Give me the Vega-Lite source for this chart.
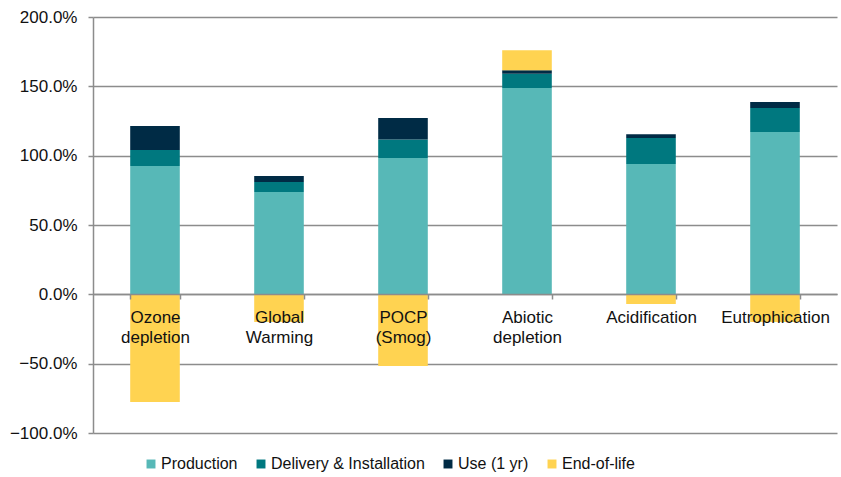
{
  "$schema": "https://vega.github.io/schema/vega-lite/v6.json",
  "width": 744,
  "height": 416,
  "autosize": {"type": "none"},
  "padding": {"left": 93, "top": 17, "right": 4, "bottom": 44},
  "background": "white",
  "config": {
    "view": {"stroke": null},
    "font": "Liberation Sans",
    "axis": {"labelFont": "Liberation Sans", "labelFontSize": 17, "labelColor": "#111"},
    "legend": {"labelFont": "Liberation Sans", "labelFontSize": 16, "labelColor": "#111"}
  },
  "data": {
    "values": [
      {"category": "Ozone depletion", "stage": "Production", "order": 1, "value": 92.6},
      {"category": "Ozone depletion", "stage": "Delivery & Installation", "order": 2, "value": 11.5},
      {"category": "Ozone depletion", "stage": "Use (1 yr)", "order": 3, "value": 17.3},
      {"category": "Ozone depletion", "stage": "End-of-life", "order": 4, "value": -77.7},
      {"category": "Global Warming", "stage": "Production", "order": 1, "value": 73.8},
      {"category": "Global Warming", "stage": "Delivery & Installation", "order": 2, "value": 7.2},
      {"category": "Global Warming", "stage": "Use (1 yr)", "order": 3, "value": 4.4},
      {"category": "Global Warming", "stage": "End-of-life", "order": 4, "value": -20.0},
      {"category": "POCP (Smog)", "stage": "Production", "order": 1, "value": 98.3},
      {"category": "POCP (Smog)", "stage": "Delivery & Installation", "order": 2, "value": 13.3},
      {"category": "POCP (Smog)", "stage": "Use (1 yr)", "order": 3, "value": 15.6},
      {"category": "POCP (Smog)", "stage": "End-of-life", "order": 4, "value": -51.7},
      {"category": "Abiotic depletion", "stage": "Production", "order": 1, "value": 148.8},
      {"category": "Abiotic depletion", "stage": "Delivery & Installation", "order": 2, "value": 10.2},
      {"category": "Abiotic depletion", "stage": "Use (1 yr)", "order": 3, "value": 2.6},
      {"category": "Abiotic depletion", "stage": "End-of-life", "order": 4, "value": 14.4},
      {"category": "Acidification", "stage": "Production", "order": 1, "value": 94.0},
      {"category": "Acidification", "stage": "Delivery & Installation", "order": 2, "value": 18.8},
      {"category": "Acidification", "stage": "Use (1 yr)", "order": 3, "value": 2.6},
      {"category": "Acidification", "stage": "End-of-life", "order": 4, "value": -7.0},
      {"category": "Eutrophication", "stage": "Production", "order": 1, "value": 117.1},
      {"category": "Eutrophication", "stage": "Delivery & Installation", "order": 2, "value": 17.3},
      {"category": "Eutrophication", "stage": "Use (1 yr)", "order": 3, "value": 4.3},
      {"category": "Eutrophication", "stage": "End-of-life", "order": 4, "value": -20.0}
    ]
  },
  "mark": {"type": "bar"},
  "encoding": {
    "x": {
      "field": "category",
      "type": "nominal",
      "sort": null,
      "scale": {"paddingInner": 0.6, "paddingOuter": 0.3},
      "axis": {
        "title": null,
        "orient": "bottom",
        "offset": -139,
        "zindex": 1,
        "labelAngle": 0,
        "labelExpr": "split(datum.label, ' ')",
        "labelLineHeight": 20,
        "labelPadding": 10,
        "labelBaseline": "top",
        "domainColor": "#8c8c8c",
        "domainWidth": 1.5,
        "tickColor": "#8c8c8c",
        "tickWidth": 1.5,
        "tickSize": 5,
        "tickBand": "extent",
        "grid": false
      }
    },
    "y": {
      "field": "value",
      "type": "quantitative",
      "stack": "zero",
      "scale": {"domain": [-100, 200], "nice": false},
      "axis": {
        "title": null,
        "values": [-100, -50, 0, 50, 100, 150, 200],
        "labelExpr": "format(datum.value, '.1f') + '%'",
        "labelPadding": 11,
        "tickSize": 5,
        "tickColor": "#8c8c8c",
        "tickWidth": 1.5,
        "domainColor": "#8c8c8c",
        "domainWidth": 1.5,
        "gridColor": "#8c8c8c",
        "gridWidth": 1.5,
        "grid": true
      }
    },
    "color": {
      "field": "stage",
      "type": "nominal",
      "sort": ["Production", "Delivery & Installation", "Use (1 yr)", "End-of-life"],
      "scale": {
        "domain": ["Production", "Delivery & Installation", "Use (1 yr)", "End-of-life"],
        "range": ["#57B8B7", "#00787F", "#002B45", "#FFD351"]
      },
      "legend": {
        "title": null,
        "orient": "none",
        "direction": "horizontal",
        "legendX": 50,
        "legendY": 439,
        "symbolType": "square",
        "symbolSize": 80,
        "symbolStrokeWidth": 0,
        "labelOffset": 2,
        "columnPadding": 15
      }
    },
    "order": {"field": "order", "type": "quantitative"}
  }
}
